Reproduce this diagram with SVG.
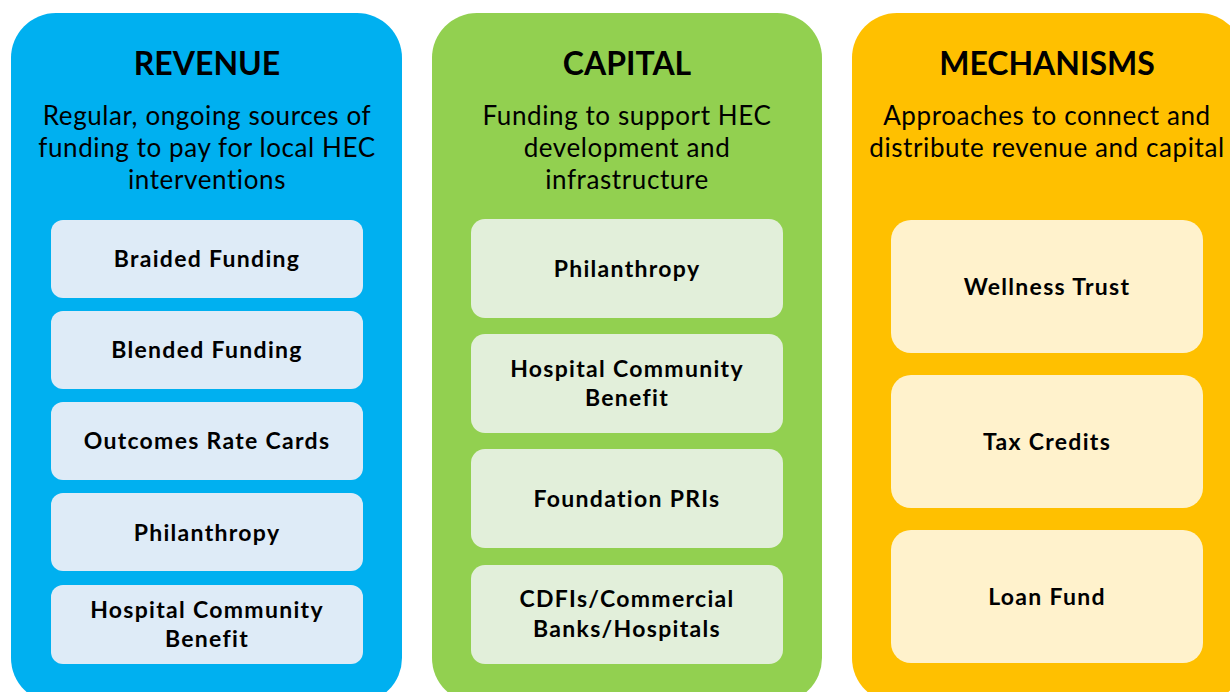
<svg xmlns="http://www.w3.org/2000/svg" width="1230" height="692" viewBox="0 0 1230 692">
<style>
.title{font-family:Lato,"Open Sans",sans-serif;font-weight:bold;font-size:32px;fill:#000;text-anchor:middle}
.sub{font-family:Lato,"Open Sans",sans-serif;font-size:26px;letter-spacing:0.6px;fill:#000;text-anchor:middle}
.lbl{font-family:Lato,"Open Sans",sans-serif;font-weight:bold;font-size:23px;letter-spacing:1.3px;fill:#000;text-anchor:middle}
.bb{fill:#DEEBF7}
.gb{fill:#E2EFDA}
.ob{fill:#FFF2CC}
</style>
<rect width="1230" height="692" fill="#fff"/>
<g id="revenue">
<rect x="11" y="13" width="391" height="690" rx="45" fill="#00B0F0"/>
<text class="title" x="207" y="75">REVENUE</text>
<text class="sub" x="207" y="125">Regular, ongoing sources of</text>
<text class="sub" x="207" y="157">funding to pay for local HEC</text>
<text class="sub" x="207" y="189">interventions</text>
</g>
<g id="rev-braided"><rect class="bb" x="51" y="220" width="312" height="78" rx="12"/><text class="lbl" x="207" y="267">Braided Funding</text></g>
<g id="rev-blended"><rect class="bb" x="51" y="311" width="312" height="78" rx="12"/><text class="lbl" x="207" y="358">Blended Funding</text></g>
<g id="rev-outcomes"><rect class="bb" x="51" y="402" width="312" height="78" rx="12"/><text class="lbl" x="207" y="449">Outcomes Rate Cards</text></g>
<g id="rev-philanthropy"><rect class="bb" x="51" y="493" width="312" height="78" rx="12"/><text class="lbl" x="207" y="541">Philanthropy</text></g>
<g id="rev-hospital"><rect class="bb" x="51" y="585" width="312" height="79" rx="12"/><text class="lbl" x="207" y="618">Hospital Community</text><text class="lbl" x="207" y="647">Benefit</text></g>

<g id="capital">
<rect x="432" y="13" width="390" height="690" rx="45" fill="#92D050"/>
<text class="title" x="627" y="75">CAPITAL</text>
<text class="sub" x="627" y="125">Funding to support HEC</text>
<text class="sub" x="627" y="157">development and</text>
<text class="sub" x="627" y="189">infrastructure</text>
</g>
<g id="cap-philanthropy"><rect class="gb" x="471" y="219" width="312" height="99" rx="14"/><text class="lbl" x="627" y="277">Philanthropy</text></g>
<g id="cap-hospital"><rect class="gb" x="471" y="334" width="312" height="99" rx="14"/><text class="lbl" x="627" y="377">Hospital Community</text><text class="lbl" x="627" y="406">Benefit</text></g>
<g id="cap-pri"><rect class="gb" x="471" y="449" width="312" height="99" rx="14"/><text class="lbl" x="627" y="507">Foundation PRIs</text></g>
<g id="cap-cdfi"><rect class="gb" x="471" y="565" width="312" height="99" rx="14"/><text class="lbl" x="627" y="607">CDFIs/Commercial</text><text class="lbl" x="627" y="637">Banks/Hospitals</text></g>

<g id="mechanisms">
<rect x="852" y="13" width="392" height="690" rx="45" fill="#FFC000"/>
<text class="title" x="1047" y="75">MECHANISMS</text>
<text class="sub" x="1047" y="125">Approaches to connect and</text>
<text class="sub" x="1047" y="157">distribute revenue and capital</text>
</g>
<g id="mech-wellness"><rect class="ob" x="891" y="220" width="312" height="133" rx="20"/><text class="lbl" x="1047" y="295">Wellness Trust</text></g>
<g id="mech-tax"><rect class="ob" x="891" y="375" width="312" height="133" rx="20"/><text class="lbl" x="1047" y="450">Tax Credits</text></g>
<g id="mech-loan"><rect class="ob" x="891" y="530" width="312" height="133" rx="20"/><text class="lbl" x="1047" y="605">Loan Fund</text></g>
<g id="connectors"></g>
</svg>
